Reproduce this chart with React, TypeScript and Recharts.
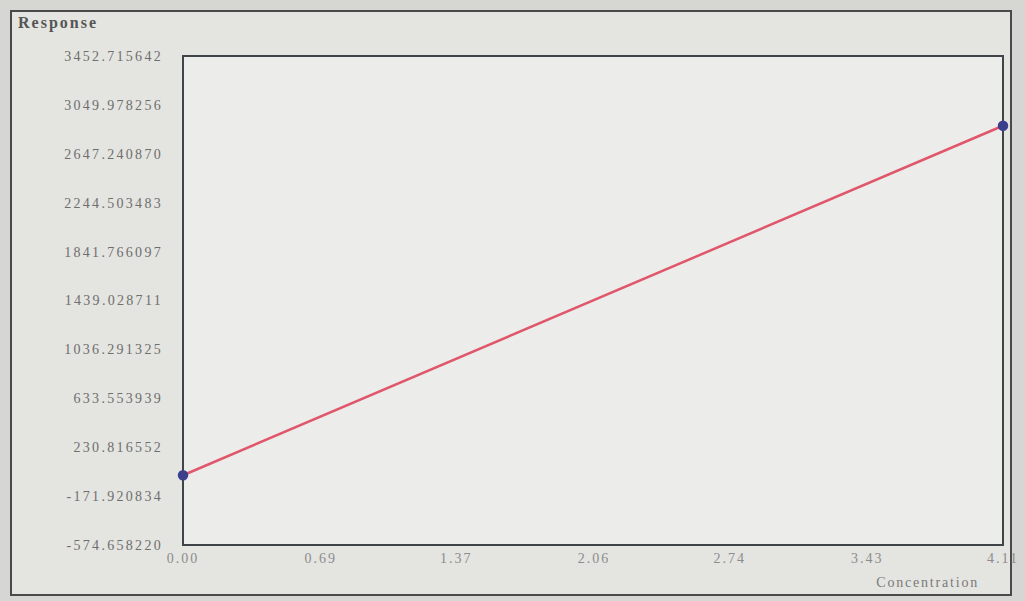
import { Label, Line, LineChart, ReferenceArea, XAxis, YAxis } from "recharts";

const concentration = [0, 4.11];
const response = [0, 2878.06];

const xTicks = [0, 0.69, 1.37, 2.06, 2.74, 3.43, 4.11];
const yTicks = [
  -574.65822, -171.920834, 230.816552, 633.553939, 1036.291325, 1439.028711,
  1841.766097, 2244.503483, 2647.24087, 3049.978256, 3452.715642,
];

const data = concentration.map((c, i) => ({ c, r: response[i] }));

const serif = '"Liberation Serif", "DejaVu Serif", serif';

export default function App() {
  const yMin = yTicks[0];
  const yMax = yTicks[yTicks.length - 1];
  return (
    <div
      style={{
        position: "fixed",
        left: 0,
        top: 0,
        width: 1025,
        height: 601,
        background: "#d6d6d2",
        overflow: "hidden",
        fontFamily: serif,
      }}
    >
      <div
        style={{
          position: "absolute",
          left: 10,
          top: 10,
          width: 998,
          height: 582,
          border: "2px solid #4a4a4a",
          background: "#e4e4e0",
        }}
      />
      <div
        style={{
          position: "absolute",
          left: 18,
          top: 14,
          fontSize: 16,
          fontWeight: "bold",
          color: "#555",
          letterSpacing: 2,
        }}
      >
        Response
      </div>
      <div style={{ position: "absolute", left: 0, top: 0 }}>
        <LineChart
          width={1025}
          height={601}
          data={data}
          margin={{ top: 56, right: 22, bottom: 34, left: 0 }}
        >
          <XAxis
            dataKey="c"
            type="number"
            domain={[0, 4.11]}
            ticks={xTicks}
            tickFormatter={(v: number) => v.toFixed(2)}
            axisLine={false}
            tickLine={false}
            tickMargin={2}
            height={22}
            tick={{ fontSize: 14, fill: "#8c8c8c", fontFamily: serif, letterSpacing: 2 }}
          >
            <Label
              value="Concentration"
              position="insideBottomRight"
              offset={0}
              dx={-24}
              dy={20}
              style={{ fontSize: 14, fill: "#7a7a7a", fontFamily: serif, letterSpacing: 1.8 }}
            />
          </XAxis>
          <YAxis
            type="number"
            domain={[yMin, yMax]}
            ticks={yTicks}
            tickFormatter={(v: number) => v.toFixed(6)}
            axisLine={false}
            tickLine={false}
            tickMargin={14}
            width={183}
            tick={{ fontSize: 14, fill: "#6e6e6e", fontFamily: serif, letterSpacing: 2.3 }}
          />
          <ReferenceArea
            x1={0}
            x2={4.11}
            y1={yMin}
            y2={yMax}
            fill="#ececea"
            fillOpacity={1}
            stroke="#3e4448"
            strokeWidth={2}
          />
          <Line
            type="linear"
            dataKey="r"
            stroke="#e0566a"
            strokeWidth={2.5}
            dot={{ r: 4, fill: "#3b3f8c", stroke: "#3b3f8c" }}
            isAnimationActive={false}
          />
        </LineChart>
      </div>
    </div>
  );
}
